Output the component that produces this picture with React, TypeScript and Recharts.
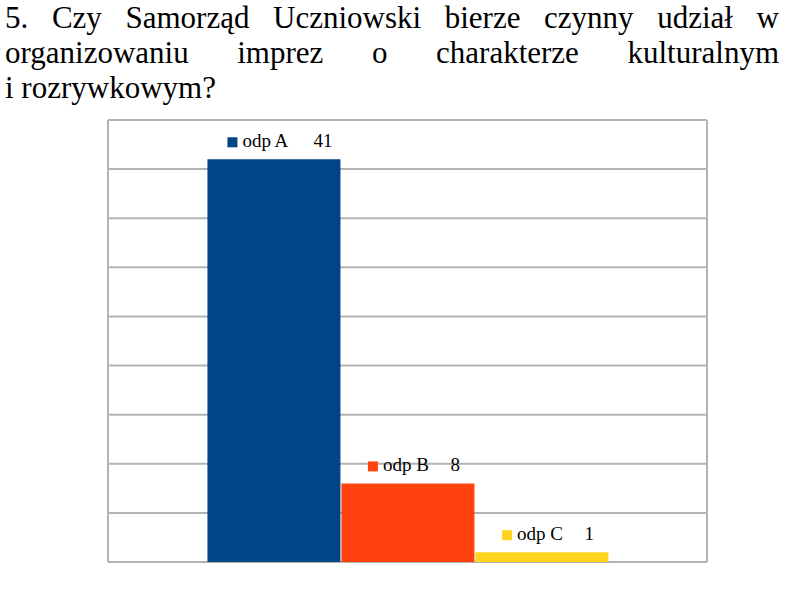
import { BarChart, Bar, XAxis, YAxis, CartesianGrid, LabelList } from 'recharts'

const titleLines = [
  '5. Czy Samorząd Uczniowski bierze czynny udział w',
  'organizowaniu imprez o charakterze kulturalnym',
  'i rozrywkowym?',
]

const seriesKeys = ['A', 'B', 'C']
const seriesNames = ['odp A', 'odp B', 'odp C']
const seriesValues = [41, 8, 1]
const seriesColors = ['#004586', '#ff420e', '#ffd320']
const yTicks = [0, 5, 10, 15, 20, 25, 30, 35, 40, 45]

const chartData = [
  seriesKeys.reduce((row: Record<string, number | string>, key, i) => {
    row[key] = seriesValues[i]
    return row
  }, { name: '' }),
]

const FONT = 'Liberation Serif'

function makeLabel(name: string, color: string) {
  return (props: any) => {
    const { x, y, width, value } = props
    const digits = String(value).length
    const w = 79 + 13 * digits
    const left = x + width / 2 + 6 - w / 2
    const base = y - 12
    return (
      <g>
        <rect x={left} y={base - 10} width={10} height={10} fill={color} />
        <text x={left + 15} y={base} fontSize={19} fontFamily={FONT} fill="#000">
          {name}
        </text>
        <text x={left + w} y={base} fontSize={19} fontFamily={FONT} fill="#000" textAnchor="end">
          {value}
        </text>
      </g>
    )
  }
}

export default function App() {
  return (
    <div style={{ position: 'absolute', left: 0, top: 0, width: 794, height: 595, background: '#fff' }}>
      <div
        style={{
          position: 'absolute',
          left: 5,
          top: 0,
          width: 774,
          fontFamily: FONT,
          fontSize: 31,
          lineHeight: '35px',
          color: '#000',
        }}
      >
        {titleLines.map((line, i) => (
          <div
            key={i}
            style={{
              fontFamily: FONT,
              textAlign: 'justify',
              textAlignLast: i < titleLines.length - 1 ? 'justify' : 'left',
              whiteSpace: 'nowrap',
            }}
          >
            {line}
          </div>
        ))}
      </div>
      <div style={{ position: 'absolute', left: 0, top: 0 }}>
        <BarChart
          width={794}
          height={595}
          data={chartData}
          margin={{ top: 120, right: 87, bottom: 33, left: 108 }}
          barCategoryGap="16.6%"
          barGap={1}
        >
          <CartesianGrid
            stroke="#b3b3b3"
            strokeWidth={2}
            verticalPoints={[108, 707]}
          />
          <XAxis dataKey="name" hide />
          <YAxis hide domain={[0, 45]} ticks={yTicks} />
          {seriesKeys.map((key, i) => (
            <Bar key={key} dataKey={key} fill={seriesColors[i]} isAnimationActive={false}>
              <LabelList dataKey={key} content={makeLabel(seriesNames[i], seriesColors[i])} />
            </Bar>
          ))}
        </BarChart>
      </div>
    </div>
  )
}
